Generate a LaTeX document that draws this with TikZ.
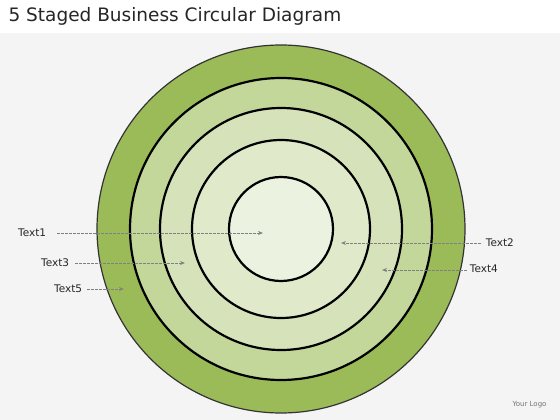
\documentclass[tikz,border=0pt]{standalone}
\usepackage{fontspec}
\setmainfont{DejaVu Sans}
\usetikzlibrary{arrows.meta}
\definecolor{bgc}{RGB}{244,244,244}
\definecolor{ringA}{RGB}{155,187,89}
\definecolor{ringB}{RGB}{196,215,155}
\definecolor{ringC}{RGB}{214,227,186}
\definecolor{ringD}{RGB}{224,234,203}
\definecolor{ringE}{RGB}{236,242,224}
\definecolor{arr}{RGB}{128,128,128}
\tikzset{
  ring/.style={draw=black, line width=2.2pt},
  lbl/.style={font=\fontsize{10.5}{11}\selectfont, inner sep=1pt, text=black!85},
  pointer/.style={draw=arr, dashed, dash pattern=on 2.5pt off 1.5pt, line width=0.7pt, -{Stealth[length=5pt,width=4pt,open]}}
}
\begin{document}
\begin{tikzpicture}[x=1pt,y=-1pt]
\useasboundingbox (0,0) rectangle (560,420);
\fill[bgc] (0,0) rectangle (560,420);
\fill[white] (0,0) rectangle (560,33);
\node[anchor=west, font=\fontsize{18.5}{20}\selectfont, text=black!85] (title) at (5,16) {5 Staged Business Circular Diagram};
\coordinate (c) at (281,229);
\fill[ringA, draw=black!80, line width=1.2pt] (c) circle (184);
\fill[ringB, ring] (c) circle (151);
\fill[ringC, ring] (c) circle (121);
\fill[ringD, ring] (c) circle (89);
\fill[ringE, ring] (c) circle (52);
% labels
\node[lbl, anchor=west] (t1) at (17,233) {Text1};
\node[lbl, anchor=west] (t3) at (40,263) {Text3};
\node[lbl, anchor=west] (t5) at (53,289) {Text5};
\node[lbl, anchor=east] (t2) at (515,243) {Text2};
\node[lbl, anchor=east] (t4) at (499,269) {Text4};
\coordinate (e1) at (263,233);
\coordinate (e3) at (185,263);
\coordinate (e5) at (124,289);
\coordinate (e2) at (341,243);
\coordinate (e4) at (382,270);
\draw[pointer] ([xshift=10pt]t1.east) -- (e1);
\draw[pointer] ([xshift=5pt]t3.east) -- (e3);
\draw[pointer] ([xshift=4pt]t5.east) -- (e5);
\draw[pointer] ([xshift=-4pt]t2.west) -- (e2);
\draw[pointer] ([xshift=-2pt]t4.west|-e4) -- (e4);
\node[font=\fontsize{7}{8}\selectfont, text=black!55, anchor=east] (logo) at (550,405) {Your Logo};
\end{tikzpicture}
\end{document}
